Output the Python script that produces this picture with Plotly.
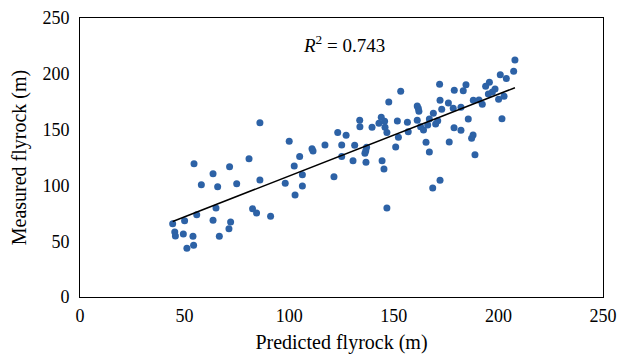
import numpy as np
import plotly.graph_objects as go

predicted = [54.5, 71.5, 63.6, 58.0, 65.8, 74.9, 65.0, 55.8, 50.0, 44.3, 63.6, 72.0, 45.3, 45.6, 49.4, 54.0, 71.2, 66.6, 54.3, 51.1,
             86.0, 100.0, 105.0, 102.4, 106.3, 106.3, 98.1, 86.0, 80.8, 102.8, 82.5, 84.4, 91.1,
             133.7, 133.8, 139.6, 142.9, 123.2, 127.2, 110.9, 111.4, 117.1, 125.1, 131.3, 137.0, 136.6, 136.2, 125.1, 130.5, 136.7, 121.4,
             171.9, 153.3, 147.6, 172.1, 176.1, 172.9, 161.2, 161.7, 162.0, 168.9, 144.0, 145.6, 151.7, 156.5, 161.2, 167.0, 171.0,
             145.8, 146.7, 156.9, 162.8, 164.2, 166.2, 170.0, 152.2, 150.9, 165.4, 167.0, 176.5, 144.4, 145.3, 172.1, 168.6, 146.7,
             207.9, 207.3, 200.9, 203.8, 195.7, 193.9, 184.5, 183.2, 178.9, 198.4, 197.1, 195.2, 202.7, 200.1, 178.4, 182.1,
             188.0, 190.7, 192.3, 185.6, 201.7, 178.8, 182.1, 187.9, 187.2, 188.8]
measured = [119.4, 116.8, 110.5, 100.6, 98.8, 101.5, 79.7, 73.8, 68.4, 65.7, 68.7, 67.2, 58.2, 54.7, 56.5, 54.4, 61.2, 54.4, 46.3, 43.6,
            156.2, 139.5, 125.8, 117.4, 109.6, 99.5, 101.9, 104.8, 123.9, 91.4, 79.1, 75.3, 72.3,
            158.3, 152.6, 152.1, 155.6, 147.3, 144.9, 132.9, 130.8, 136.2, 136.2, 135.9, 134.1, 131.1, 128.8, 126.0, 122.1, 120.7, 107.8,
            190.6, 184.3, 174.7, 176.2, 173.8, 168.2, 171.1, 169.1, 166.4, 164.6, 161.0, 157.4, 157.7, 156.5, 158.3, 159.5, 158.0,
            152.1, 147.3, 148.1, 152.6, 149.6, 154.1, 155.0, 143.1, 134.4, 138.6, 129.9, 138.9, 122.1, 114.7, 104.6, 97.7, 79.7,
            212.4, 202.2, 199.2, 195.9, 192.4, 188.8, 190.3, 184.9, 185.2, 186.4, 183.7, 181.9, 179.8, 177.1, 169.1, 170.0,
            176.2, 176.5, 172.7, 159.5, 159.8, 151.7, 149.4, 145.2, 142.2, 127.5]
tick_vals = [0, 50, 100, 150, 200, 250]
r2_label = "<i>R</i><sup>2</sup> = 0.743"

px = np.array(predicted)
my = np.array(measured)
slope, intercept = np.polyfit(px, my, 1)
line_x = np.array([px.min(), px.max()])
line_y = intercept + slope * line_x

FONT = "Liberation Serif"

fig = go.Figure()
fig.add_trace(go.Scatter(x=predicted, y=measured, mode="markers",
                         marker=dict(size=7, color="#2D62A6"), showlegend=False))
fig.add_trace(go.Scatter(x=line_x, y=line_y, mode="lines",
                         line=dict(color="black", width=1.5), showlegend=False))

fig.add_annotation(x=126, y=227, xref="x", yref="y", text=r2_label, showarrow=False,
                   font=dict(family=FONT, size=19, color="black"))

axis_common = dict(range=[0, 250], tickvals=tick_vals, showgrid=False, zeroline=False,
                   showline=True, linecolor="black", linewidth=1, mirror=True,
                   ticks="", tickfont=dict(family=FONT, size=18, color="black"))
fig.update_xaxes(**axis_common, ticklabelstandoff=2,
                 title=dict(text="Predicted flyrock (m)",
                            font=dict(family=FONT, size=20, color="black"), standoff=10))
fig.update_yaxes(**axis_common, ticklabelstandoff=6,
                 title=dict(text="Measured flyrock (m)",
                            font=dict(family=FONT, size=20, color="black"), standoff=10))

# page body has an 8px default margin; size the figure so the plot area lands at 80..603 x 18..297
fig.update_layout(width=617, height=351, margin=dict(l=72, r=22, t=10, b=62, autoexpand=False),
                  plot_bgcolor="white", paper_bgcolor="white")
fig.write_html("out.html")
